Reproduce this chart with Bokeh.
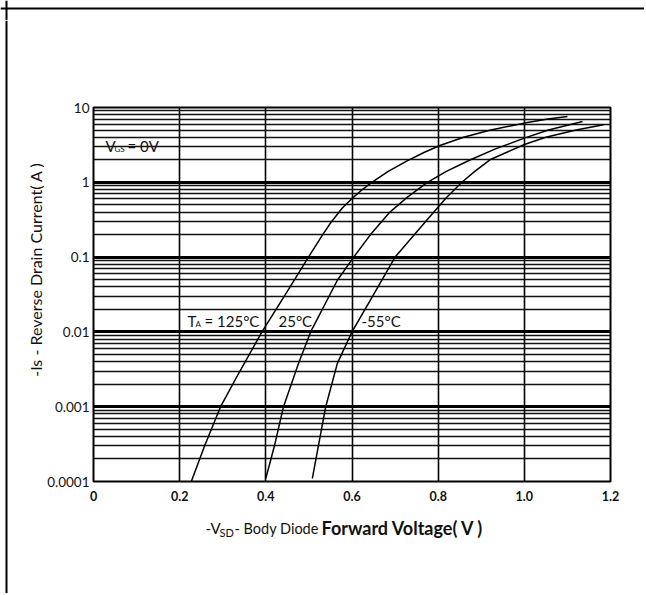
import math
from bokeh.plotting import figure
from bokeh.layouts import column, row
from bokeh.models import FixedTicker, Label, Span, Range1d
from bokeh.embed import file_html
from bokeh.resources import INLINE

# ---- data ----
x_ticks = [0, 0.2, 0.4, 0.6, 0.8, 1.0, 1.2]
x_tick_labels = ["0", "0.2", "0.4", "0.6", "0.8", "1.0", "1.2"]
y_ticks = [0.0001, 0.001, 0.01, 0.1, 1, 10]
y_tick_labels = ["0.0001", "0.001", "0.01", "0.1", "1", "10"]
y_minor_mult = [2, 3, 4, 5, 6, 7, 8, 9]

# T = 125 C : current (A) vs -VSD (V)
i_125 = [0.0001, 0.0003, 0.001, 0.003, 0.01, 0.03, 0.1, 0.2, 0.29, 0.45, 0.63,
         0.8, 1.0, 1.4, 1.95, 2.5, 3.1, 4.0, 5.0, 6.3, 7.0, 7.6]
v_125 = [0.227, 0.258, 0.295, 0.340, 0.391, 0.443, 0.499, 0.532, 0.551, 0.577, 0.603,
         0.624, 0.646, 0.684, 0.729, 0.767, 0.804, 0.859, 0.922, 1.007, 1.055, 1.100]
# T = 25 C
i_25 = [0.00011, 0.0003, 0.001, 0.0038, 0.01, 0.049, 0.1, 0.2, 0.4, 0.63, 1.0,
        1.4, 2.0, 2.8, 3.9, 5.0, 6.5]
v_25 = [0.400, 0.420, 0.441, 0.476, 0.504, 0.566, 0.604, 0.643, 0.688, 0.728, 0.775,
        0.819, 0.875, 0.933, 1.000, 1.056, 1.135]
# T = -55 C
i_m55 = [0.00011, 0.0003, 0.001, 0.0038, 0.01, 0.03, 0.1, 0.2, 0.4, 0.63, 1.0,
         1.4, 2.0, 3.2, 4.0, 5.0, 5.9]
v_m55 = [0.508, 0.522, 0.539, 0.566, 0.600, 0.648, 0.700, 0.745, 0.790, 0.820, 0.855,
         0.885, 0.920, 1.000, 1.050, 1.120, 1.184]

FONT = "Lato"
INK = "#111111"

# ---- layout sizes (pixels) ----
TOP_H = 20
LEFT_W = 44
MAIN_W = 600
MAIN_H = 488
BOT_H = 85
PAGE_W = LEFT_W + MAIN_W
PAGE_H = TOP_H + MAIN_H + BOT_H


def blank_fig(w, h, xr, yr, **kw):
    f = figure(width=w, height=h, x_range=Range1d(*xr), y_range=Range1d(*yr),
               x_axis_location=None, y_axis_location=None, output_backend="svg",
               toolbar_location=None, min_border=0, **kw)
    f.grid.visible = False
    f.outline_line_color = None
    f.background_fill_color = "white"
    f.border_fill_color = "white"
    return f


def lab(f, x, y, text, size="15px", style="normal", align="left", angle=0.0,
        units="data", baseline="middle"):
    f.add_layout(Label(x=x, y=y, x_units=units, y_units=units, text=text,
                       text_font=FONT, text_font_size=size, text_font_style=style,
                       text_color=INK, text_align=align,
                       text_baseline=baseline, angle=angle))


# ---- main chart ----
y_minor = [m * t for t in y_ticks[:-1] for m in y_minor_mult]

p = figure(width=MAIN_W, height=MAIN_H, x_range=(0, 1.2), y_range=(0.0001, 10),
           y_axis_type="log", output_backend="svg", toolbar_location=None,
           min_border_left=49, min_border_right=34, min_border_top=87,
           min_border_bottom=27)
p.background_fill_color = "white"
p.border_fill_color = "white"
p.outline_line_color = "black"
p.outline_line_width = 2

p.xaxis.ticker = FixedTicker(ticks=x_ticks)
p.xaxis.major_label_overrides = {t: l for t, l in zip(x_ticks, x_tick_labels)}
p.yaxis.ticker = FixedTicker(ticks=y_ticks, minor_ticks=y_minor)
p.yaxis.major_label_overrides = {t: l for t, l in zip(y_ticks, y_tick_labels)}

for ax in (p.xaxis, p.yaxis):
    ax.axis_line_color = None
    ax.major_tick_line_color = None
    ax.minor_tick_line_color = None
    ax.major_tick_out = 0
    ax.major_tick_in = 0
    ax.minor_tick_out = 0
    ax.minor_tick_in = 0
    ax.major_label_text_font = FONT
    ax.major_label_text_color = INK

p.xaxis.major_label_text_font_size = "12.5px"
p.xaxis.major_label_text_font_style = "bold"
p.xaxis.major_label_standoff = 9
p.yaxis.major_label_text_font_size = "13.5px"
p.yaxis.major_label_standoff = 4

p.xgrid.grid_line_color = "black"
p.xgrid.grid_line_width = 1.6
p.ygrid.grid_line_color = "black"
p.ygrid.grid_line_width = 3
p.ygrid.minor_grid_line_color = "#111111"
p.ygrid.minor_grid_line_width = 1.3

for iv, vv in ((i_125, v_125), (i_25, v_25), (i_m55, v_m55)):
    p.line(vv, iv, line_color="black", line_width=1.5)

# in-plot annotations (frame-relative: x = page_x - 93, y = 481 - page_y)
lab(p, 105 - 93, 481 - 145, "V", size="15px", units="screen")
lab(p, 114 - 93, 481 - 148, "GS", size="8px", units="screen")
lab(p, 127 - 93, 481 - 145, "= 0V", size="15px", units="screen")
lab(p, 187 - 93, 481 - 320, "T", size="15px", units="screen")
lab(p, 195 - 93, 481 - 323, "A", size="8px", units="screen")
lab(p, 204 - 93, 481 - 320, "= 125°C", size="15px", units="screen")
lab(p, 278 - 93, 481 - 320, "25°C", size="15px", units="screen")
lab(p, 361 - 93, 481 - 320, "-55°C", size="15px", units="screen")

# ---- decoration panels (page pixel coordinates) ----
top = blank_fig(PAGE_W, TOP_H, (0, PAGE_W), (TOP_H, 0))
top.add_layout(Span(location=6, dimension="height", line_color="black", line_width=2))
top.add_layout(Span(location=8, dimension="width", line_color="black", line_width=2))

left = blank_fig(LEFT_W, MAIN_H + BOT_H, (0, LEFT_W), (PAGE_H, TOP_H))
left.add_layout(Span(location=6, dimension="height", line_color="black", line_width=2))
lab(left, 35, 269, "-Is - Reverse Drain Current( A )", size="16px",
    align="center", angle=math.pi / 2)

# bottom panel: its frame is aligned with the chart frame (page x 93..610)
bottom = blank_fig(MAIN_W, BOT_H, (93, 610), (PAGE_H, TOP_H + MAIN_H),
                   min_border_left=49, min_border_right=34)
lab(bottom, 205, 527.5, "-V", baseline="alphabetic")
lab(bottom, 219, 531.5, "SD", size="11px", baseline="alphabetic")
lab(bottom, 234, 527.5, "- Body Diode", size="14.5px", baseline="alphabetic")
lab(bottom, 321, 527.5, "Forward Voltage( V )", size="18px", style="bold",
    baseline="alphabetic")

layout = column(top, row(left, column(p, bottom)))

open("out.html", "w").write(file_html(layout, INLINE))
